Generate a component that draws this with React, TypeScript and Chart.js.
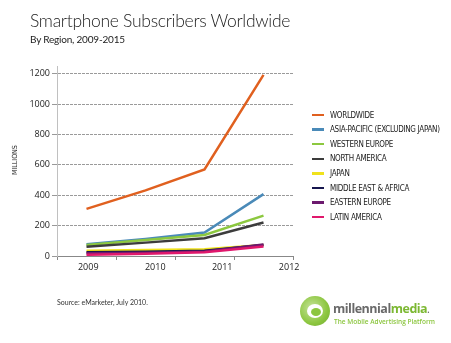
import React, { useEffect, useRef } from "react";
import { Chart, registerables } from "chart.js";

Chart.register(...registerables);

const categories = ["2009", "2010", "2011", "2012"];
const seriesNames = [
  "WORLDWIDE",
  "ASIA-PACIFIC (EXCLUDING JAPAN)",
  "WESTERN EUROPE",
  "NORTH AMERICA",
  "JAPAN",
  "MIDDLE EAST & AFRICA",
  "EASTERN EUROPE",
  "LATIN AMERICA",
];
const worldwide = [310, 432, 570, 1192];
const asiaPacific = [77, 112, 155, 407];
const westernEurope = [72, 105, 138, 266];
const northAmerica = [61, 88, 117, 220];
const japan = [35, 40, 45, 72];
const middleEastAfrica = [24, 28, 35, 72];
const easternEurope = [18, 22, 30, 75];
const latinAmerica = [8, 15, 25, 62];
const seriesValues = [
  worldwide,
  asiaPacific,
  westernEurope,
  northAmerica,
  japan,
  middleEastAfrica,
  easternEurope,
  latinAmerica,
];
const seriesColors = [
  "#e0601f",
  "#4a8ab8",
  "#8cc83f",
  "#3c3c3c",
  "#f0e21c",
  "#16164e",
  "#6c1a6e",
  "#e0186c",
];
const yTicks = [0, 200, 400, 600, 800, 1000, 1200];

const FONT = "'Open Sans', 'DejaVu Sans', sans-serif";

// draws the year labels under the x axis (spread a little wider than the data slots, as in the original)
const yearLabelsPlugin = {
  id: "yearLabels",
  afterDraw(chart: any) {
    const xs = chart.scales.x;
    const ctx = chart.ctx;
    ctx.save();
    ctx.font = `9px ${FONT}`;
    ctx.fillStyle = "#222";
    ctx.textAlign = "center";
    ctx.textBaseline = "middle";
    categories.forEach((label, i) => {
      const px = xs.getPixelForValue(1.03 + i * 1.135);
      ctx.fillText(label, px, xs.bottom + 6.5);
    });
    ctx.restore();
  },
};

export default function App() {
  const canvasRef = useRef<HTMLCanvasElement | null>(null);

  useEffect(() => {
    const canvas = canvasRef.current;
    if (!canvas) return;
    const n = categories.length;
    const chart = new Chart(canvas, {
      type: "line",
      data: {
        datasets: seriesNames.map((name, s) => ({
          label: name,
          data: seriesValues[s].map((v, i) => ({ x: i + 1, y: v })),
          borderColor: seriesColors[s],
          backgroundColor: seriesColors[s],
          borderWidth: 2.5,
          pointRadius: 0,
          tension: 0,
          order: seriesNames.length - s,
        })),
      },
      plugins: [yearLabelsPlugin],
      options: {
        animation: false,
        responsive: false,
        maintainAspectRatio: false,
        layout: { padding: { left: 0, right: 158, top: 66, bottom: 82 } },
        plugins: {
          legend: { display: false },
          tooltip: { enabled: false },
          title: { display: false },
        },
        scales: {
          x: {
            type: "linear",
            position: "bottom",
            min: 0.5,
            max: n + 0.5,
            afterBuildTicks: (scale: any) => {
              scale.ticks = Array.from({ length: n + 1 }, (_, i) => ({ value: i + 0.5 }));
            },
            afterFit: (scale: any) => {
              scale.height = 5;
            },
            ticks: { display: false },
            grid: {
              drawOnChartArea: false,
              drawTicks: true,
              tickLength: 4,
              tickColor: "#888",
              color: "#888",
            },
            border: { color: "#888", width: 1 },
          },
          y: {
            type: "linear",
            min: 0,
            max: 1250,
            afterBuildTicks: (scale: any) => {
              scale.ticks = yTicks.map((v) => ({ value: v }));
            },
            afterFit: (scale: any) => {
              scale.width = 57;
            },
            ticks: {
              padding: 2,
              color: "#222",
              font: { family: FONT, size: 9 },
              callback: (v: any) => String(v),
            },
            grid: {
              color: "#9a9a9a",
              lineWidth: 1,
              drawTicks: true,
              tickLength: 5,
              tickColor: "#999",
              tickBorderDash: [],
            },
            border: { color: "#c0c0c0", width: 1, dash: [3, 1] },
          },
        },
      },
    });
    return () => chart.destroy();
  }, []);

  const legendTop = 115;
  const legendStep = 14.6;

  return (
    <div
      style={{
        position: "fixed",
        left: 0,
        top: 0,
        width: 451,
        height: 343,
        background: "#fff",
        overflow: "hidden",
        fontFamily: FONT,
      }}
    >
      <canvas ref={canvasRef} width={451} height={343} style={{ position: "absolute", left: 0, top: 0 }} />
      <div
        style={{
          position: "absolute",
          left: 30,
          top: 10,
          fontFamily: "Lato, sans-serif",
          fontWeight: 300,
          fontSize: 17.5,
          color: "#222",
          whiteSpace: "nowrap",
          letterSpacing: -0.3,
        }}
      >
        Smartphone Subscribers Worldwide
      </div>
      <div
        style={{
          position: "absolute",
          left: 30,
          top: 33,
          fontFamily: "Lato, sans-serif",
          fontSize: 10,
          color: "#222",
          whiteSpace: "nowrap",
          letterSpacing: -0.2,
        }}
      >
        By Region, 2009-2015
      </div>
      <div
        style={{
          position: "absolute",
          left: 15,
          top: 160,
          transform: "translate(-50%, -50%) rotate(-90deg)",
          fontFamily: "'Liberation Sans Narrow', 'DejaVu Sans Condensed', sans-serif",
          fontSize: 7,
          color: "#222",
          whiteSpace: "nowrap",
        }}
      >
        MILLIONS
      </div>
      {seriesNames.map((name, s) => (
        <div
          key={name}
          style={{
            position: "absolute",
            left: 312,
            top: legendTop + s * legendStep - 6,
            height: 12,
            display: "flex",
            alignItems: "center",
            whiteSpace: "nowrap",
          }}
        >
          <div style={{ width: 12, height: 2.5, background: seriesColors[s], marginRight: 6 }} />
          <span
            style={{
              fontFamily: "'Liberation Sans Narrow', 'DejaVu Sans Condensed', sans-serif",
              fontSize: 8,
              color: "#222",
              letterSpacing: -0.3,
            }}
          >
            {name}
          </span>
        </div>
      ))}
      <div
        style={{
          position: "absolute",
          left: 57,
          top: 298,
          fontFamily: "Lato, sans-serif",
          fontSize: 7,
          color: "#333",
          whiteSpace: "nowrap",
        }}
      >
        Source: eMarketer, July 2010.
      </div>
      <div
        style={{
          position: "absolute",
          left: 300,
          top: 296,
          width: 30,
          height: 30,
          borderRadius: "50%",
          background: "radial-gradient(circle at 40% 40%, #c6e39a 0%, #8cc63f 60%, #6fa830 100%)",
        }}
      >
        <div
          style={{
            position: "absolute",
            left: 7,
            top: 8,
            width: 16,
            height: 14,
            borderRadius: "50%",
            background: "#fff",
          }}
        />
        <div
          style={{
            position: "absolute",
            left: 11,
            top: 12,
            width: 10,
            height: 8,
            borderRadius: "50%",
            background: "#8cc63f",
          }}
        />
      </div>
      <div
        style={{
          position: "absolute",
          left: 333,
          top: 302,
          fontFamily: "'Open Sans', sans-serif",
          fontWeight: 700,
          fontSize: 12.5,
          whiteSpace: "nowrap",
          letterSpacing: -0.5,
          lineHeight: "14px",
        }}
      >
        <span style={{ color: "#6a6a6a" }}>millennial</span>
        <span style={{ color: "#7cb832" }}>media</span>
        <span style={{ color: "#6a6a6a", fontSize: 8 }}>.</span>
      </div>
      <div
        style={{
          position: "absolute",
          left: 334,
          top: 318,
          fontFamily: "'Open Sans', sans-serif",
          fontWeight: 600,
          fontSize: 6.5,
          color: "#8cc63f",
          whiteSpace: "nowrap",
          lineHeight: "8px",
        }}
      >
        The Mobile Advertising Platform
      </div>
    </div>
  );
}
